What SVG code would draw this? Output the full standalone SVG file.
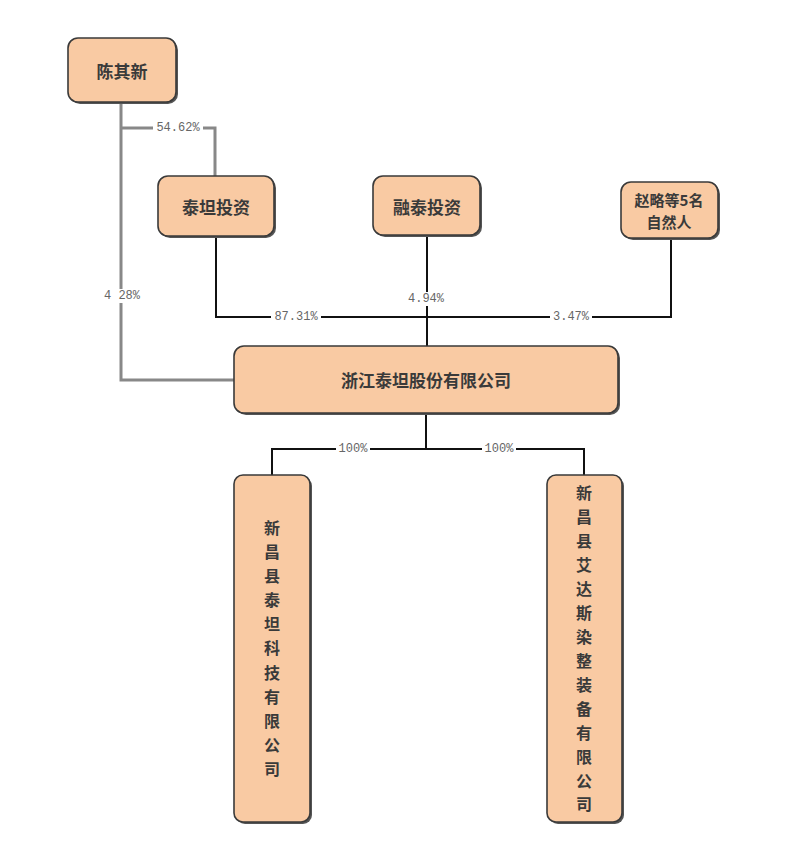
<svg xmlns="http://www.w3.org/2000/svg" width="810" height="851" viewBox="0 0 810 851">
<style>
.box{fill:#f9caa3;stroke:#3a3a3a;stroke-width:1.6}
.sh{fill:#555}
.t{font-family:"Noto Sans CJK SC","Liberation Serif",serif;font-size:17px;font-weight:bold;fill:#3a3a3a;text-anchor:middle;dominant-baseline:central}
.t2{font-family:"Noto Sans CJK SC","Liberation Serif",serif;font-size:15px;font-weight:bold;fill:#3a3a3a;text-anchor:middle;dominant-baseline:central}
.tv{font-family:"Noto Sans CJK SC","Liberation Serif",serif;font-size:16px;font-weight:bold;fill:#3a3a3a;text-anchor:middle;dominant-baseline:central}
.lb{font-family:"Liberation Mono","Noto Sans CJK SC",monospace;font-size:12px;fill:#666;text-anchor:middle;dominant-baseline:central}
.lbg{fill:#fff}
.k{fill:none;stroke:#111;stroke-width:2}
.g{fill:none;stroke:#888;stroke-width:3}
</style>
<rect width="810" height="851" fill="#fff"/>
<g id="connectors">
<polyline class="g" points="121,102 121,380 234,380"/>
<polyline class="g" points="121,128 215,128 215,177"/>
<polyline class="k" points="216,237 216,317 671,317 671,238"/>
<line class="k" x1="427" y1="235" x2="427" y2="347"/>
<line class="k" x1="426" y1="413" x2="426" y2="449"/>
<polyline class="k" points="272,475 272,449 584,449 584,475"/>
<rect class="lbg" x="153" y="121" width="50" height="14"/>
<text class="lb" x="178" y="128">54.62%</text>
<rect class="lbg" x="100" y="289" width="46" height="14"/>
<text class="lb" x="122" y="296">4 28%</text>
<rect class="lbg" x="271" y="310" width="50" height="14"/>
<text class="lb" x="296" y="317">87.31%</text>
<rect class="lbg" x="405" y="292" width="42" height="14"/>
<text class="lb" x="426" y="299">4.94%</text>
<rect class="lbg" x="550" y="310" width="42" height="14"/>
<text class="lb" x="571" y="317">3.47%</text>
<rect class="lbg" x="336" y="442" width="34" height="14"/>
<text class="lb" x="353" y="449">100%</text>
<rect class="lbg" x="482" y="442" width="34" height="14"/>
<text class="lb" x="499" y="449">100%</text>
</g>
<g id="n1">
<rect class="sh" x="70" y="40" width="108" height="64" rx="10"/>
<rect class="box" x="68" y="38" width="108" height="64" rx="10"/>
<text class="t" x="122" y="70">陈其新</text>
</g>
<g id="n2">
<rect class="sh" x="160" y="178" width="116" height="60" rx="10"/>
<rect class="box" x="158" y="176" width="116" height="60" rx="10"/>
<text class="t" x="216" y="206">泰坦投资</text>
</g>
<g id="n3">
<rect class="sh" x="375" y="178" width="107" height="59" rx="10"/>
<rect class="box" x="373" y="176" width="107" height="59" rx="10"/>
<text class="t" x="427" y="206">融泰投资</text>
</g>
<g id="n4">
<rect class="sh" x="623" y="184" width="97" height="56" rx="10"/>
<rect class="box" x="621" y="182" width="97" height="56" rx="10"/>
<text class="t2" x="669" y="199">赵略等5名</text>
<text class="t2" x="669" y="221">自然人</text>
</g>
<g id="n5">
<rect class="sh" x="236" y="348" width="384" height="67" rx="10"/>
<rect class="box" x="234" y="346" width="384" height="67" rx="10"/>
<text class="t" x="426" y="379">浙江泰坦股份有限公司</text>
</g>
<g id="n6">
<rect class="sh" x="236" y="477" width="76" height="347" rx="9"/>
<rect class="box" x="234" y="475" width="76" height="347" rx="9"/>
<text class="tv" x="272" y="527">新</text>
<text class="tv" x="272" y="551">昌</text>
<text class="tv" x="272" y="575">县</text>
<text class="tv" x="272" y="599">泰</text>
<text class="tv" x="272" y="623">坦</text>
<text class="tv" x="272" y="647">科</text>
<text class="tv" x="272" y="672">技</text>
<text class="tv" x="272" y="696">有</text>
<text class="tv" x="272" y="720">限</text>
<text class="tv" x="272" y="744">公</text>
<text class="tv" x="272" y="768">司</text>
</g>
<g id="n7">
<rect class="sh" x="549" y="477" width="75" height="347" rx="9"/>
<rect class="box" x="547" y="475" width="75" height="347" rx="9"/>
<text class="tv" x="584" y="492">新</text>
<text class="tv" x="584" y="516">昌</text>
<text class="tv" x="584" y="540">县</text>
<text class="tv" x="584" y="564">艾</text>
<text class="tv" x="584" y="588">达</text>
<text class="tv" x="584" y="612">斯</text>
<text class="tv" x="584" y="636">染</text>
<text class="tv" x="584" y="660">整</text>
<text class="tv" x="584" y="684">装</text>
<text class="tv" x="584" y="708">备</text>
<text class="tv" x="584" y="732">有</text>
<text class="tv" x="584" y="756">限</text>
<text class="tv" x="584" y="780">公</text>
<text class="tv" x="584" y="803">司</text>
</g>
</svg>
